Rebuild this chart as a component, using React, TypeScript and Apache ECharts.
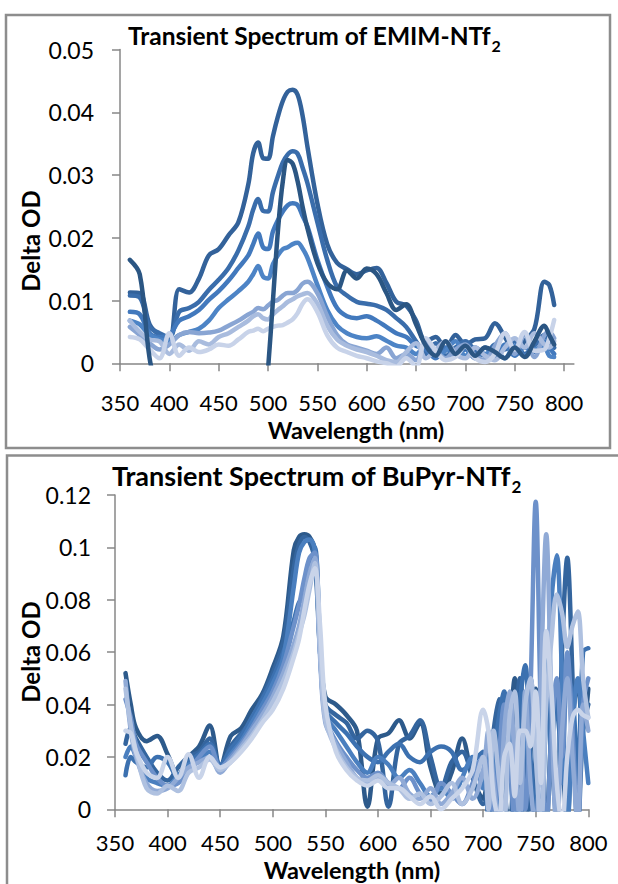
import React, { useEffect, useRef } from 'react';
import * as echarts from 'echarts';

// ---------- Top chart: Transient Spectrum of EMIM-NTf2 ----------
const topWavelengths = [
  360, 370, 380, 390, 400, 410, 420, 430, 440, 450, 460, 470, 480,
  485, 490, 495, 500, 505, 510, 515, 520, 525, 530, 535, 540,
  550, 560, 570, 580, 590, 600, 610, 620, 630, 640, 650, 660, 670, 680, 690, 700, 710, 720, 730, 740, 750, 760, 770, 780,
  785, 790,
];

const emimS1 = [
  0.0113, 0.0112, 0.0062, 0.0045, 0.0038, 0.0118, 0.0113, 0.0135, 0.0172, 0.0182, 0.0204, 0.0225, 0.0285,
  0.0335, 0.0352, 0.0327, 0.0326, 0.0362, 0.0393, 0.0418, 0.0433, 0.0436, 0.0428, 0.0395, 0.0345,
  0.0255, 0.019, 0.016, 0.015, 0.0142, 0.0148, 0.0152, 0.0128, 0.0098, 0.0092, 0.0068, 0.0035, 0.0042, 0.0022, 0.0045, 0.003, 0.0038, 0.004, 0.0064, 0.0042, 0.0018, 0.0035, 0.0055, 0.013,
  0.0125, 0.0093,
];
const emimS2 = [
  0.0108, 0.0105, 0.0058, 0.0048, 0.0042, 0.0082, 0.0088, 0.0098, 0.0117, 0.0133, 0.0152, 0.018, 0.0218,
  0.0245, 0.0262, 0.0243, 0.0242, 0.0273, 0.0298, 0.032, 0.0333, 0.0338, 0.0334, 0.0312, 0.0287,
  0.0225, 0.0165, 0.0122, 0.0108, 0.0098, 0.0095, 0.0092, 0.0085, 0.0072, 0.0058, 0.0035, 0.0015, 0.0032, 0.0012, 0.0025, 0.0035, 0.002, 0.0012, 0.003, 0.0022, 0.0035, 0.0015, 0.0028, 0.0045,
  0.0035, 0.0025,
];
const emimS3 = [
  0.0082, 0.0078, 0.0048, 0.0042, 0.0045, 0.0068, 0.0075, 0.0085, 0.0101, 0.0115, 0.0132, 0.0152, 0.0172,
  0.019, 0.0207, 0.0185, 0.0182, 0.021, 0.0228, 0.0242, 0.0252, 0.0255, 0.0252, 0.0235, 0.0218,
  0.0165, 0.0122, 0.0088, 0.0075, 0.0072, 0.0075, 0.0068, 0.0058, 0.0048, 0.0042, 0.0028, 0.0022, 0.0008, 0.0025, 0.0012, 0.0022, 0.0008, 0.0025, 0.0012, 0.003, 0.0012, 0.0025, 0.0018, 0.0035,
  0.0025, 0.0015,
];
const emimS4 = [
  0.0068, 0.0062, 0.0045, 0.0038, 0.0035, 0.0045, 0.005, 0.0055, 0.0068, 0.0088, 0.0102, 0.0115, 0.013,
  0.0142, 0.0155, 0.0138, 0.0135, 0.0158, 0.0172, 0.0182, 0.0185, 0.019, 0.0192, 0.0183, 0.0168,
  0.0125, 0.0085, 0.006, 0.0048, 0.0042, 0.004, 0.0043, 0.0036, 0.0028, 0.0025, 0.0015, 0.003, 0.0012, 0.002, 0.0035, 0.0012, 0.0025, 0.0015, 0.0022, 0.0008, 0.0028, 0.0012, 0.0022, 0.0025,
  0.0012, 0.001,
];
const emimS5 = [
  0.0058, 0.0045, 0.0032, 0.0022, 0.003, 0.0045, 0.005, 0.0048, 0.0049, 0.0052, 0.006, 0.0068, 0.0078,
  0.0082, 0.0088, 0.0086, 0.0092, 0.0098, 0.0101, 0.0108, 0.0112, 0.0112, 0.0117, 0.0127, 0.013,
  0.0112, 0.0075, 0.0045, 0.003, 0.0025, 0.002, 0.0015, 0.0025, 0.0008, 0.0015, 0.0005, 0.0035, 0.002, 0.0008, 0.0022, 0.003, 0.0012, 0.0005, 0.0028, 0.0048, 0.0015, 0.0045, 0.001, 0.0045,
  0.005, 0.004,
];
const emimS6 = [
  0.0068, 0.005, 0.0038, 0.0035, 0.0015, 0.003, 0.002, 0.0035, 0.003, 0.0042, 0.0048, 0.0058, 0.0068,
  0.0075, 0.0078, 0.0072, 0.007, 0.0078, 0.0085, 0.0091, 0.0098, 0.0102, 0.0107, 0.011, 0.0112,
  0.0095, 0.006, 0.0038, 0.0028, 0.0022, 0.0018, 0.0012, 0.0005, 0.0002, 0.0018, 0.0032, 0.0008, 0.0022, 0.0035, 0.0015, 0.0008, 0.0025, 0.0012, 0.0005, 0.0025, 0.004, 0.0025, 0.0048, 0.003,
  0.0025, 0.0035,
];
const emimS7 = [
  0.0042, 0.0038, 0.0022, 0.0008, 0.0048, 0.0012, 0.0025, 0.0018, 0.0022, 0.003, 0.0028, 0.0038, 0.005,
  0.0052, 0.0055, 0.0051, 0.0055, 0.0058, 0.006, 0.0061, 0.0065, 0.007, 0.008, 0.0095, 0.0102,
  0.0082, 0.0045, 0.0025, 0.0018, 0.0012, 0.0008, 0.0003, 0.0, -0.0005, 0.0008, -0.0005, 0.004, 0.002, 0.0005, 0.001, 0.0027, 0.0008, 0.0002, 0.0015, 0.0048, 0.0022, 0.005, 0.002, 0.0022,
  0.004, 0.0069,
];
const emimS0 = [
  0.0165, 0.0142, 0.0008, -0.006, -0.012, -0.015, -0.015, -0.015, -0.015, -0.015, -0.015, -0.015, -0.015,
  -0.015, -0.014, -0.01, -0.001, 0.01, 0.021, 0.029, 0.0324, 0.0318, 0.029, 0.025, 0.0215,
  0.016, 0.0128, 0.0118, 0.0148, 0.0135, 0.0151, 0.0142, 0.0112, 0.0085, 0.0094, 0.0062, 0.0028, 0.0012, 0.0035, 0.0015, 0.0028, 0.0012, 0.0025, 0.0018, 0.0008, 0.0025, 0.001, 0.0035, 0.006,
  0.0045, 0.003,
];
const topSeriesValues = [emimS1, emimS2, emimS3, emimS4, emimS5, emimS6, emimS7, emimS0];
const topColors = ['#33629A', '#3A6DAB', '#4279BD', '#4D84C6', '#89A5D3', '#A9BCDE', '#C8D3E9', '#2B5683'];

// ---------- Bottom chart: Transient Spectrum of BuPyr-NTf2 ----------
const bottomWavelengths = [
  360, 365, 370,
  380, 390, 400, 410, 420, 430, 440, 450, 460, 470, 480, 490, 500, 510, 520,
  525, 530, 535, 540, 545, 550,
  560, 570, 580, 590, 600, 610, 620, 630, 640, 650, 660, 670, 680, 690, 700,
  705, 710, 715, 720, 725, 730, 735, 740, 745, 750, 755, 760, 765, 770, 775, 780, 785, 790, 795, 800,
];
const bupyrB0 = [
  0.052, 0.04, 0.031,
  0.026, 0.028, 0.021, 0.013, 0.02, 0.024, 0.032, 0.016, 0.028, 0.031, 0.038, 0.044, 0.054, 0.066, 0.099,
  0.104, 0.105, 0.104, 0.099, 0.062, 0.043,
  0.04, 0.036, 0.03, 0.001, 0.027, 0.029, 0.034, 0.027, 0.033, 0.016, 0.006, 0.014, 0.027, 0.012, 0.004,
  0.016, -0.005, 0.022, 0.044, 0.036, 0.05, 0.02, -0.008, 0.022, 0.046, 0.025, -0.006, 0.03, 0.048, 0.02, -0.004, 0.034, 0.048, 0.03, 0.046,
];
const bupyrB1 = [
  0.025, 0.031, 0.027,
  0.02, 0.014, 0.011, 0.016, 0.02, 0.022, 0.027, 0.016, 0.024, 0.029, 0.034, 0.043, 0.052, 0.064, 0.092,
  0.101, 0.104, 0.102, 0.095, 0.06, 0.04,
  0.036, 0.033, 0.027, 0.03, 0.026, 0.001, 0.025, 0.028, 0.034, 0.02, 0.008, 0.018, 0.022, 0.012, 0.002,
  0.01, 0.03, 0.042, 0.01, -0.008, 0.025, 0.05, 0.02, -0.006, 0.02, 0.045, 0.06, 0.02, -0.004, 0.06, 0.096, 0.05, -0.01, 0.03, 0.04,
];
const bupyrB2 = [
  0.013, 0.02, 0.018,
  0.016, 0.02, 0.018, 0.012, 0.018, 0.021, 0.025, 0.017, 0.023, 0.028, 0.035, 0.042, 0.05, 0.06, 0.072,
  0.079, 0.081, 0.09, 0.1, 0.064, 0.038,
  0.033, 0.029, 0.024, 0.02, 0.018, 0.022, 0.025, 0.02, 0.018, 0.022, 0.024, 0.022, 0.015, 0.018, 0.022,
  -0.004, 0.02, 0.035, 0.045, 0.02, -0.006, 0.04, 0.055, 0.02, -0.004, 0.04, 0.05, 0.02, 0.045, 0.01, 0.05, 0.045, 0.01, 0.06, 0.0615,
];
const bupyrB3 = [
  0.02, 0.024, 0.02,
  0.012, 0.01, 0.009, 0.013, 0.017, 0.019, 0.022, 0.015, 0.021, 0.026, 0.033, 0.04, 0.048, 0.058, 0.085,
  0.098, 0.102, 0.103, 0.099, 0.06, 0.036,
  0.03, 0.024, 0.018, 0.014, 0.02, 0.017, 0.012, 0.015, 0.01, 0.005, 0.008, 0.004, 0.012, 0.02, 0.008,
  0.02, 0.025, -0.004, 0.03, 0.04, 0.01, -0.006, 0.035, 0.05, 0.02, -0.005, 0.04, 0.08, 0.097, 0.05, -0.008, 0.03, 0.05, 0.03, 0.01,
];
const bupyrB4 = [
  0.042, 0.035, 0.025,
  0.018, 0.012, 0.009, 0.01, 0.015, 0.02, 0.024, 0.016, 0.02, 0.025, 0.031, 0.038, 0.045, 0.055, 0.07,
  0.078, 0.088, 0.096, 0.098, 0.06, 0.035,
  0.026, 0.02, 0.015, 0.012, 0.014, 0.01, 0.008, 0.012, 0.006, 0.003, 0.01, 0.006, 0.002, 0.01, 0.02,
  0.015, -0.004, 0.02, 0.04, 0.02, -0.004, 0.03, 0.0, 0.045, 0.1174, 0.035, -0.01, 0.03, 0.05, 0.02, 0.06, 0.03, -0.005, 0.04, 0.05,
];
const bupyrB5 = [
  0.049, 0.03, 0.02,
  0.01, 0.007, 0.008, 0.012, 0.016, 0.018, 0.02, 0.014, 0.019, 0.024, 0.03, 0.036, 0.043, 0.052, 0.063,
  0.07, 0.08, 0.09, 0.096, 0.058, 0.033,
  0.025, 0.018, 0.012, 0.01, 0.012, 0.009, 0.012, 0.006, 0.004, 0.008, 0.002, 0.006, 0.012, 0.004, 0.015,
  0.03, 0.01, -0.006, 0.03, 0.045, 0.02, -0.004, 0.045, 0.01, -0.008, 0.05, 0.105, 0.04, -0.01, 0.03, 0.05, 0.02, -0.005, 0.04, 0.03,
];
const bupyrB6 = [
  0.046, 0.032, 0.022,
  0.008, 0.006, 0.009, 0.007, 0.014, 0.016, 0.019, 0.015, 0.018, 0.023, 0.028, 0.034, 0.041, 0.049, 0.06,
  0.067, 0.074, 0.084, 0.094, 0.06, 0.034,
  0.023, 0.016, 0.012, 0.011, 0.013, 0.01, 0.008, 0.004, 0.006, 0.002, 0.005, 0.01, 0.002, 0.008, 0.02,
  0.0, 0.03, 0.012, -0.004, 0.035, 0.045, 0.01, 0.04, 0.05, 0.02, -0.006, 0.04, 0.065, 0.082, 0.075, 0.062, 0.07, 0.0755, 0.05, 0.035,
];
const bupyrB7 = [
  0.03, 0.029, 0.022,
  0.014, 0.012, 0.02, 0.012, 0.021, 0.012, 0.02, 0.016, 0.018, 0.022, 0.027, 0.033, 0.038, 0.046, 0.058,
  0.065, 0.076, 0.086, 0.092, 0.07, 0.04,
  0.022, 0.015, 0.011, 0.009, 0.011, 0.008, 0.008, 0.005, 0.002, 0.005, 0.0, 0.004, 0.008, 0.015, 0.038,
  0.03, 0.005, -0.004, 0.02, 0.025, 0.005, 0.03, 0.03, 0.024, 0.045, 0.01, 0.068, 0.045, 0.01, -0.006, 0.02, 0.035, 0.038, 0.036, 0.035,
];
const bottomSeriesValues = [bupyrB0, bupyrB1, bupyrB2, bupyrB3, bupyrB4, bupyrB5, bupyrB6, bupyrB7];
const bottomColors = ['#2D5A8B', '#34659E', '#3C71B0', '#4A7FBF', '#6D91CA', '#90AAD6', '#AFC1E0', '#C9D4E9'];

const xTickValues = [350, 400, 450, 500, 550, 600, 650, 700, 750, 800];

const topTitle = 'Transient Spectrum of EMIM-NTf';
const bottomTitle = 'Transient Spectrum of BuPyr-NTf';
const titleSub = '2';
const yName = 'Delta OD';
const xName = 'Wavelength (nm)';

const FONT = 'Lato';
const AXIS_GRAY = '#878787';
const BOX_GRAY = '#8d8d8d';

function measure(text: string, font: string): number {
  const ctx = document.createElement('canvas').getContext('2d');
  if (!ctx) return text.length * 12;
  ctx.font = font;
  return ctx.measureText(text).width;
}

function fmt(v: number): string {
  if (Math.abs(v) < 1e-9) return '0';
  return String(parseFloat(v.toFixed(3)));
}

export default function App() {
  const ref = useRef<HTMLDivElement>(null);

  useEffect(() => {
    if (!ref.current) return;
    const chart = echarts.init(ref.current, undefined, { renderer: 'svg' });

    const topTitleSize = 24.5;
    const bottomTitleSize = 27;
    const w1 = measure(topTitle, `bold ${topTitleSize}px ${FONT}`);
    const w2 = measure(bottomTitle, `bold ${bottomTitleSize}px ${FONT}`);

    const xAxisCommon = (gridIndex: number, max: number, margin: number) => ({
      gridIndex,
      type: 'value',
      min: 350,
      max,
      interval: 50,
      axisLine: { show: true, onZero: false, lineStyle: { color: AXIS_GRAY, width: 1.5 } },
      axisTick: { show: true, inside: false, length: 8, customValues: xTickValues, lineStyle: { color: AXIS_GRAY, width: 1.5 } },
      axisLabel: { customValues: xTickValues, margin, lineHeight: 20, fontFamily: FONT, fontSize: 22, color: '#000' },
      splitLine: { show: false },
    });
    const yAxisCommon = (gridIndex: number, max: number, interval: number, margin: number) => ({
      gridIndex,
      type: 'value',
      min: 0,
      max,
      interval,
      axisLine: { show: true, lineStyle: { color: AXIS_GRAY, width: 1.5 } },
      axisTick: { show: true, inside: false, length: 8, lineStyle: { color: AXIS_GRAY, width: 1.5 } },
      axisLabel: { margin, fontFamily: FONT, fontSize: 23, color: '#000', formatter: (v: number) => fmt(v) },
      splitLine: { show: false },
    });

    const series: any[] = [];
    topSeriesValues.forEach((vals, i) => {
      series.push({
        type: 'line',
        xAxisIndex: 0,
        yAxisIndex: 0,
        data: topWavelengths.map((w, j) => [w, vals[j]]),
        showSymbol: false,
        symbol: 'none',
        smooth: 0.35,
        clip: true,
        lineStyle: { color: topColors[i], width: 4.5, cap: 'round', join: 'round' },
        z: 2 + i,
      });
    });
    bottomSeriesValues.forEach((vals, i) => {
      series.push({
        type: 'line',
        xAxisIndex: 1,
        yAxisIndex: 1,
        data: bottomWavelengths.map((w, j) => [w, vals[j]]),
        showSymbol: false,
        symbol: 'none',
        smooth: 0.35,
        clip: true,
        lineStyle: { color: bottomColors[i], width: 4.5, cap: 'round', join: 'round' },
        z: 2 + i,
      });
    });

    const boldText = (text: string, x: number, y: number, size: number, extra: any = {}) => {
      const { align, lineHeight, ...rest } = extra;
      return {
        type: 'text',
        x,
        y,
        ...rest,
        style: {
          text,
          fontFamily: FONT,
          fontWeight: 'bold',
          fontSize: size,
          lineHeight: lineHeight || size,
          fill: '#000',
          align: align || 'left',
          verticalAlign: 'middle',
        },
        z: 100,
      };
    };

    const option: any = {
      animation: false,
      backgroundColor: '#ffffff',
      grid: [
        { left: 120, top: 49.6, width: 453.9, height: 313.7 },
        { left: 115, top: 495, width: 473.3, height: 314.3 },
      ],
      xAxis: [xAxisCommon(0, 810, 29), xAxisCommon(1, 800, 23)],
      yAxis: [yAxisCommon(0, 0.05, 0.01, 26), yAxisCommon(1, 0.12, 0.02, 24)],
      series,
      graphic: [
        { type: 'rect', shape: { x: 6, y: 15, width: 604, height: 433 }, style: { fill: 'none', stroke: BOX_GRAY, lineWidth: 2.5 }, z: 90 },
        { type: 'rect', shape: { x: 7, y: 455.5, width: 660, height: 470 }, style: { fill: 'none', stroke: BOX_GRAY, lineWidth: 2.5 }, z: 90 },
        boldText(topTitle, 128, 35, topTitleSize),
        boldText(titleSub, 128 + w1 + 0.5, 45, 16),
        boldText(bottomTitle, 112, 475, bottomTitleSize),
        boldText(titleSub, 112 + w2 + 0.5, 486, 17),
        boldText(yName, 30, 241, 24, { rotation: Math.PI / 2, align: 'center' }),
        boldText(yName, 30, 652, 24, { rotation: Math.PI / 2, align: 'center' }),
        boldText(xName, 356, 430, 23.5, { align: 'center', lineHeight: 18 }),
        boldText(xName, 352, 869.5, 23.5, { align: 'center', lineHeight: 18 }),
      ],
    };

    chart.setOption(option);
    return () => chart.dispose();
  }, []);

  return (
    <div
      ref={ref}
      style={{ position: 'absolute', left: 0, top: 0, width: 618, height: 884, background: '#fff' }}
    />
  );
}
